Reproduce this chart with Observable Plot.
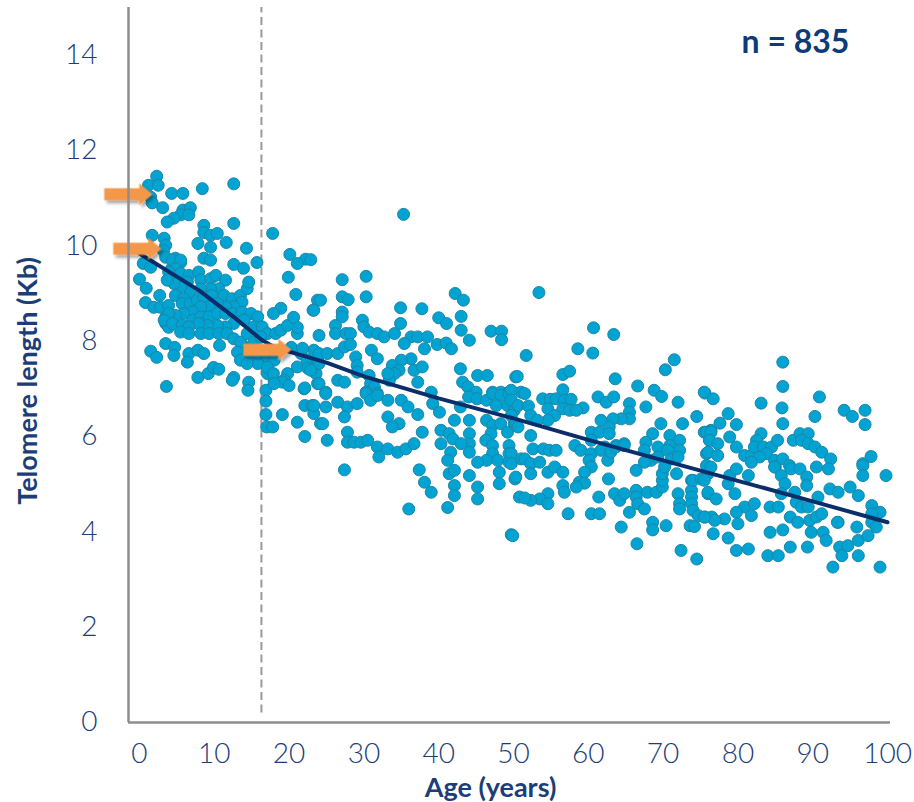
<!DOCTYPE html>
<html><head><meta charset="utf-8">
<script src="https://cdn.jsdelivr.net/npm/d3@7"></script>
<script src="https://cdn.jsdelivr.net/npm/@observablehq/plot@0.6"></script>
<style>body{margin:0;background:#fff}</style>
</head><body><div id="chart"></div>
<script>
// ---- Data: [age (years), telomere length (Kb)] ----
const pointsChildhood = [
[2.3,11.46],[1.2,11.27],[2.5,11.27],[1.5,11.02],[1.7,10.9],[3.1,10.8],[4.3,11.1],[5.8,11.1],[8.4,11.2],[12.6,11.3],
[5.8,10.75],[6.8,10.8],[5.5,10.65],[6.6,10.65],[4.6,10.58],[3.7,10.5],
[8.6,10.43],[8.6,10.28],[9.5,10.22],[10.4,10.26],[12.6,10.47],[11.6,10.07],[7.8,10.05],[9.5,9.97],[14.3,9.95],
[1.7,10.22],[3.3,10.16],[3.5,10.01],[3.2,9.9],[3.5,9.76],
[8.6,9.74],[9.5,9.70],[12.6,9.61],[13.9,9.53],[15.7,9.65],
[0.5,9.63],[1.5,9.55],[4.8,9.74],[5.5,9.65],[4.4,9.55],
[0,9.3],[0.9,9.11],[2.7,8.96],[0.8,8.81],[1.9,8.71],[2.8,8.71],[3.9,8.75],
[3.5,8.5],[3.5,8.37],[3.9,8.29],
[1.5,7.79],[2.3,7.66],[3.5,7.95],[4.7,7.87],[4.6,7.7],[3.6,7.05],
[6.6,7.74],[7.8,7.81],[8.6,7.74],[6.4,7.56],[7.8,7.24],[9.2,7.32],[9.9,7.45],[10.6,7.41],[12.6,7.24],
[10.7,7.91],[13.8,7.91],[14.5,7.6],[14.6,7.14],[14.5,6.97],[15.8,7.53],
[4.4,9.70],[5.5,9.70],[4.8,9.52],[3.9,9.45],[5.5,9.42],[6.6,9.38],[7.9,9.45],[6.4,9.24],[8.2,9.28],[9.5,9.31],
[10.2,9.38],[11.5,9.28],[10.6,9.10],[9.5,9.10],[8.2,9.10],[6.8,9.03],[5.5,9.14],[4.6,9.21],[3.7,9.28],[4.8,8.96],
[5.9,8.89],[5.7,8.79],[6.8,8.79],[7.7,8.86],[8.6,8.93],[9.7,8.96],[11.3,8.96],[12.4,8.89],[13.5,8.96],[14.4,9.10],
[14.6,9.24],[13.7,8.82],[12.6,8.72],[11.5,8.72],[10.4,8.79],[9.3,8.72],[8.2,8.72],[7.1,8.61],[5.9,8.58],[4.8,8.54],
[3.9,8.58],[3.3,8.44],[4.4,8.37],[5.7,8.33],[7.1,8.44],[8.2,8.51],[9.3,8.51],[10.4,8.58],[11.5,8.58],[12.6,8.58],
[13.7,8.61],[14.9,8.58],[15.8,8.51],[14.0,8.44],[12.6,8.37],[11.5,8.30],[10.4,8.33],[9.1,8.33],[7.9,8.37],[6.6,8.30],
[5.5,8.19],[6.6,8.16],[8.2,8.16],[9.3,8.16],[10.6,8.16],[11.7,8.16],[12.6,8.05],[13.5,7.98],[14.4,8.16],[15.3,8.30],
[15.3,7.98],[13.1,7.77],[13.5,7.60],[14.4,7.53],[15.8,7.74],[12.4,7.18]
];
const pointsYoungAdult = [
[16.4,8.30],[17.1,8.16],[18.2,8.16],[18.9,8.23],[16.2,8.09],[17.1,7.67],[18.0,7.60],[17.1,7.32],[18.0,7.18],[19.8,7.32],
[21.1,7.46],[21.6,7.74],[22.4,7.60],[23.3,7.81],[23.8,7.60],[23.6,7.32],
[17.8,10.26],[17.1,7.45],[17.9,7.32],[19.3,7.18],[22,7.0],[23.8,7.11],[20.3,7.87],[21.8,7.85],[21.1,8.16],[21.1,8.29],
[19.8,8.33],[18.9,8.69],[17.9,8.58],[20.6,8.5],[20.9,8.98],[19.9,9.34],[23.8,8.86],[23.2,8.65],[22.5,7.43],[24,7.53],
[20.1,9.82],[22.2,9.72],[21.1,9.63],
[16.9,6.97],[16.9,6.74],[16.9,6.46],[19.1,6.46],[17.0,6.20],[17.8,6.20],[21.1,6.30],[22.1,6.00],[22.1,6.65],[23.1,6.65],
[23.3,6.48],[24.2,6.27],[22.1,7.02],[19.1,7.14],[20.0,7.07],[18.0,7.11]
];
const pointsAdultUpper = [
[35.3,10.66],[22.9,9.71],[27.1,9.29],[30.3,9.36],[24.2,8.86],[23.3,8.65],[27.1,8.93],[27.9,8.87],[30.3,8.93],
[34.9,8.70],[37.75,8.68],[40.0,8.49],[41.05,8.37],[43.0,8.52],[42.2,9.0],[43.3,8.86],
[27.1,8.61],[27.1,8.51],[26.2,8.33],[26.2,8.16],[27.6,8.16],[28.2,8.16],[24.0,8.12],[29.8,8.44],[30.0,8.30],[30.7,8.19],
[31.8,8.16],[32.7,8.09],[34.1,8.16],[34.9,8.37],[36.3,8.09],[37.2,8.09],[38.5,8.09],[39.8,7.93],[41.0,7.96],[41.7,7.84],
[38.1,7.84],[43.0,8.23],[44.1,8.02],[47.0,8.21],[48.4,8.21],[48.4,8.03],
[24.0,7.74],[25.1,7.74],[26.5,7.74],[27.4,7.88],[28.2,7.93],
[31.0,7.81],[31.8,7.63],[35.4,7.95],[36.3,7.63],[35.0,7.60],[33.8,7.49],[34.7,7.39],[34.1,7.32],[33.4,7.18],[33.2,7.32],
[28.9,7.67],[29.1,7.49],[29.1,7.35],[30.7,7.28],[30.9,7.11],[31.4,7.04],[30.3,6.93],[31.8,6.90],
[36.7,7.39],[37.8,7.46],[37.2,7.14],[39.0,6.93],
[42.9,7.42],[43.2,7.14],[45.2,7.28],[46.5,7.28],[43.9,7.04],[45.0,6.93],[47.2,6.93],[48.3,6.93],[49.4,6.93],[50.3,7.25],[51.0,6.93],
[22.9,7.39],[24.0,7.11],[24.9,6.93],[26.5,7.18],[27.4,7.14],[53.4,9.02]
];
const pointsAdultLower = [
[24.9,6.90],[23.3,6.65],[24.9,6.62],[24.5,6.27],[25.1,5.92],[26.5,6.72],[27.8,6.62],[27.4,6.41],[29.1,6.69],[30.3,6.90],
[30.9,6.76],[31.8,6.86],[33.2,6.76],
[27.8,6.09],[27.8,5.88],[28.7,5.88],[29.6,5.88],[30.5,5.92],[31.8,5.78],[32.0,5.57],[33.2,6.41],[34.7,6.27],[33.8,6.20],
[33.2,5.74],[34.5,5.67],[35.6,5.74],[36.7,5.85],[35.0,6.76],[35.9,6.62],[37.2,6.46],[37.8,6.09],
[27.4,5.30],[37.4,5.30],[38.1,5.04],[39.0,4.83],[36.0,4.48],
[39.2,6.69],[40.1,6.51],[40.3,6.13],[40.3,5.85],[41.4,6.06],[41.9,5.95],[42.1,6.34],[44.1,6.34],[44.1,6.06],[44.1,5.85],
[44.1,5.67],[43.0,5.85],[41.6,5.67],[41.2,5.50],[41.4,5.22],[42.1,5.29],[42.1,4.97],[42.1,4.76],[41.2,4.51],[44.1,5.18],
[45.2,4.94],[45.2,4.69],
[42.9,6.62],[44.0,6.83],[45.1,6.79],[46.4,6.76],[47.2,6.90],[48.3,6.86],[49.4,6.90],[47.7,6.65],[49.2,6.65],[50.1,6.55],
[46.4,6.34],[47.2,6.23],[48.3,6.27],[49.2,6.09],[50.1,6.27],[47.0,6.06],[46.3,5.92],[47.2,5.81],[47.2,5.64],[46.4,5.50],
[45.2,5.46],[47.9,5.50],[49.4,5.81],[49.4,5.64],[49.4,5.46],[48.1,5.25],[48.1,5.01],[50.2,5.11],[51.0,5.53],[50.8,4.73],[49.7,3.94]
];
const pointsMidlifeUpper = [
[60.7,8.28],[63.4,8.14],[51.7,7.70],[58.6,7.84],[60.6,7.75],[50.5,7.26],[56.6,7.30],[57.5,7.37],
[71.5,7.61],[70.3,7.40],[63.6,7.21],[66.6,7.06],[68.8,6.97],[69.8,6.84],[72.0,6.72],[74.5,6.42],[75.6,6.91],
[49.7,6.97],[51.5,6.90],[49.7,6.76],[50.6,6.65],[52.0,6.64],[49.7,6.44],[50.3,6.27],[52.3,6.44],[53.9,6.79],[54.9,6.78],
[55.7,6.79],[56.6,6.98],[56.8,6.76],[57.7,6.78],[59.3,6.60],[56.6,6.58],[57.5,6.55],[58.4,6.55],[54.6,6.58],[55.5,6.44],
[54.6,6.34],[53.2,6.34],[50.6,6.20],[52.3,6.02],
[61.3,6.83],[62.4,6.72],[63.4,6.83],[65.5,6.69],[65.5,6.51],[65.5,6.37],[64.4,6.37],[63.3,6.37],[61.7,6.34],[60.4,6.09],
[61.5,6.09],[62.8,6.20],[62.8,6.06],[60.4,5.92],[64.8,5.85],[63.7,5.81],[62.2,5.78],
[67.7,6.62],[69.7,6.27],[68.6,6.06],[70.9,6.02],[72.6,6.27],[72.2,5.92],[67.7,5.88],[69.3,5.78],[70.9,5.81],[75.5,6.09],
[76.2,5.92],[76.4,6.13]
];
const pointsMidlifeLower = [
[49.7,5.64],[49.7,5.43],[51.5,5.53],[52.6,5.74],[54.0,5.74],[54.8,5.71],[55.7,5.71],[52.3,5.43],[53.5,5.46],[52.3,5.22],
[50.3,5.15],[54.6,5.25],[55.5,5.36],[56.6,5.25],
[58.2,5.81],[59.0,5.71],[60.4,5.64],[60.1,5.50],[60.4,5.36],[59.5,5.25],[58.8,5.04],[59.5,5.02],[58.4,4.94],[56.6,4.97],
[56.8,4.83],[54.6,4.80],[53.5,4.69],[52.3,4.66],[51.5,4.71],[54.6,4.59],[49.9,3.92],[57.3,4.38],
[60.4,4.38],[61.5,4.38],[61.4,4.73],[62.7,5.11],[62.6,5.50],[61.7,5.71],[63.0,5.67],[63.7,5.78],[64.8,5.81],[63.5,4.80],
[64.2,4.66],[64.8,4.80],
[66.4,5.29],[66.4,4.87],[66.4,4.73],[66.6,4.59],[65.5,4.41],[67.5,4.48],[67.9,4.83],[69.1,4.83],[69.9,4.94],[69.9,5.08],
[69.9,5.22],[70.2,5.36],[64.4,4.10],[66.5,3.75],
[67.5,5.71],[68.4,5.50],[69.3,5.57],[67.5,5.46],[70.6,5.71],[71.1,5.53],[72.2,5.71],[72.0,5.57],[71.8,5.22],
[68.6,4.20],[68.6,4.04],[70.4,4.13],
[72.0,4.80],[72.2,4.59],[72.2,4.48],[73.8,5.08],[73.8,4.87],[73.8,4.73],[73.8,4.59],[74.0,4.45],[74.7,4.34],[75.6,4.31],
[76.5,4.31],[73.6,4.13],[74.2,4.11],[72.4,3.61],[74.5,3.43],
[74.0,5.08],[75.1,5.11],[76.0,5.22],[75.8,5.64],[76.0,4.80]
];
const pointsOldUpper = [
[86.0,7.56],[86.0,7.05],[85.9,6.60],[86.0,6.27],[83.1,6.70],[90.9,6.83],[90.3,6.42],[94.2,6.55],[95.3,6.42],[97.0,6.55],[97.0,6.25],
[75.5,6.93],[76.7,6.79],[78.7,6.48],[79.8,6.25],[77.6,6.28],[75.8,6.09],[76.4,6.09],[76.2,5.92],[77.3,5.85],[76.0,5.67],
[77.3,5.60],[75.8,5.39],[78.9,5.99],[79.8,5.78],
[80.9,5.60],[81.8,5.60],[83.1,6.06],[82.5,5.92],[82.2,5.78],[83.4,5.78],[84.5,5.78],[85.3,5.92],[83.8,5.64],[82.9,5.57],
[81.8,5.46],[84.9,5.50],[86.0,5.53],[85.0,5.36],[86.9,5.39],
[87.4,5.92],[88.3,6.06],[89.4,6.06],[88.5,5.92],[89.4,5.85],[90.3,5.78],[91.2,5.67],[92.4,5.53],[90.5,5.36],[92.1,5.32],
[96.7,5.43],[97.8,5.58]
];
const pointsOldLower = [
[76.4,5.36],[75.5,5.08],[76.0,4.83],[77.1,4.69],[78.7,5.01],[78.9,5.18],[79.8,5.32],[79.6,4.80],[81.4,5.18],[80.9,4.52],
[82.2,4.59],[81.8,4.34],[79.8,4.41],[80.0,4.17],[78.2,4.27],[76.9,4.24],[75.5,4.31],[76.7,3.96],[78.7,3.87],[79.8,3.61],
[81.4,3.64],[84.0,3.50],[85.4,3.50],[84.3,3.99],[86.0,4.04],[84.3,4.52],[85.4,4.52],
[84.9,5.36],[85.8,5.18],[87.1,5.32],[88.3,5.32],[89.2,5.15],[89.2,4.97],[86.3,5.01],[85.8,4.80],[87.6,4.83],[87.8,4.62],
[88.5,4.52],[89.4,4.52],[87.0,4.31],[88.0,4.20],[89.6,4.24],[90.5,4.31],[91.2,4.38],[90.7,4.73],[92.3,4.90],[93.4,4.83],
[95.0,4.94],[96.1,4.76],[89.8,3.99],[91.4,3.99],[91.8,3.82],[93.6,3.68],[94.7,3.71],[96.1,3.82],[97.4,3.92],[95.9,4.10],
[93.4,4.20],[93.9,3.50],[96.1,3.50],[92.7,3.26],[99.0,3.26],[87.0,3.68],[89.3,3.68],
[96.7,5.39],[96.7,5.18],[99.8,5.18],[97.9,4.55],[99.0,4.41],[97.9,4.38],[97.9,4.20],[98.5,4.10],[93.3,4.20]
];

// Fitted trend (two-phase)
const fitAge = [0, 8, 12.5, 16.3, 18, 20, 25, 30, 40, 50, 60, 70, 80, 90, 100];
const fitKb  = [9.84, 9.06, 8.52, 8.03, 7.88, 7.78, 7.55, 7.26, 6.8, 6.38, 5.93, 5.5, 5.07, 4.64, 4.2];

// Highlight arrows (tip positions)
const arrowAge = [1.7, 2.9, 20.3];
const arrowKb  = [11.08, 9.94, 7.82];

const dividerAge = 16.3;
const xTicks = [0, 10, 20, 30, 40, 50, 60, 70, 80, 90, 100];
const yTicks = [0, 2, 4, 6, 8, 10, 12, 14];
const xLabel = "Age (years)";
const yLabel = "Telomere length (Kb)";
const nLabel = "n = 835";

// ---- Build ----
const data = [...pointsChildhood, ...pointsYoungAdult, ...pointsAdultUpper, ...pointsAdultLower,
  ...pointsMidlifeUpper, ...pointsMidlifeLower, ...pointsOldUpper, ...pointsOldLower]
  .map(([age, kb]) => ({age, kb}));
const fit = fitAge.map((age, i) => ({age, kb: fitKb[i]}));
const arrows = arrowAge.map((age, i) => ({age, kb: arrowKb[i]}));

const navy = "#1b3d78";
const xDomain = [-1.47, 100.4];
const yDomain = [0, 15];

const arrowSymbol = {
  draw(ctx) {
    ctx.moveTo(0, 0);
    ctx.lineTo(-13, -11);
    ctx.lineTo(-13, -6);
    ctx.lineTo(-48, -6);
    ctx.lineTo(-48, 6);
    ctx.lineTo(-13, 6);
    ctx.lineTo(-13, 11);
    ctx.closePath();
  }
};

const chart = Plot.plot({
  width: 914,
  height: 802,
  marginLeft: 128,
  marginRight: 24,
  marginTop: 7,
  marginBottom: 80,
  x: {domain: xDomain},
  y: {domain: yDomain},
  style: {fontFamily: "Lato, 'Open Sans', sans-serif", background: "#fff", overflow: "visible"},
  marks: [
    Plot.ruleX([dividerAge], {y1: 0.2, y2: 15, stroke: "#9a9a9a", strokeWidth: 2, strokeDasharray: "8,4.5"}),
    Plot.dot(data, {x: "age", y: "kb", r: 6, fill: "#00a3d2", stroke: "#1c86a6", strokeWidth: 1, fillOpacity: 1}),
    Plot.line(fit, {x: "age", y: "kb", stroke: "#0b2e6b", strokeWidth: 4}),
    Plot.dot(arrows, {x: "age", y: "kb", symbol: arrowSymbol, r: 10, fill: "#f4974a", stroke: null, ariaDescription: "arrows"}),
    Plot.ruleY([0], {stroke: "#8d8d8d", strokeWidth: 2.5}),
    Plot.ruleX([xDomain[0]], {stroke: "#8d8d8d", strokeWidth: 2.5}),
    Plot.axisX({ticks: xTicks, tickSize: 0, tickPadding: 21, fontSize: 28, fontWeight: 300, color: navy, label: null}),
    Plot.axisY({ticks: yTicks, tickSize: 0, tickPadding: 31, fontSize: 28, fontWeight: 300, color: navy, label: null}),
    Plot.text([xLabel], {frameAnchor: "bottom", lineAnchor: "middle", textAnchor: "middle", dx: -19, dy: 66, fontSize: 27, fontWeight: "bold", fill: navy}),
    Plot.text([yLabel], {frameAnchor: "left", lineAnchor: "middle", textAnchor: "middle", rotate: -90, dx: -100, dy: 16, fontSize: 27, fontWeight: "bold", fill: navy}),
    Plot.text([nLabel], {frameAnchor: "top-left", lineAnchor: "middle", textAnchor: "middle", dx: 667, dy: 35, fontSize: 32, fontWeight: "bold", fill: "#0d3a78"})
  ]
});

// soft drop shadow on the highlight arrows
const ns = "http://www.w3.org/2000/svg";
const defs = document.createElementNS(ns, "defs");
defs.innerHTML = '<filter id="arrowShadow" x="-30%" y="-60%" width="160%" height="220%"><feDropShadow dx="2.5" dy="3" stdDeviation="1.8" flood-color="#000" flood-opacity="0.35"/></filter>';
chart.insertBefore(defs, chart.firstChild);
const ag = chart.querySelector('g[aria-description="arrows"]');
if (ag) ag.setAttribute("filter", "url(#arrowShadow)");

document.getElementById("chart").appendChild(chart);
</script>
</body></html>
